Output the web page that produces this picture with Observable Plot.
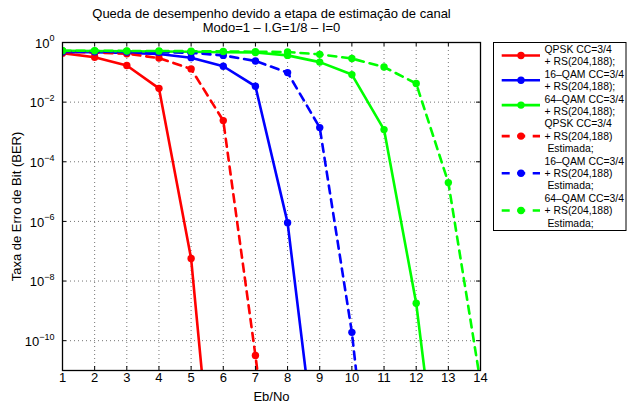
<!DOCTYPE html>
<html>
<head>
<meta charset="utf-8">
<script src="https://cdn.jsdelivr.net/npm/d3@7"></script>
<script src="https://cdn.jsdelivr.net/npm/@observablehq/plot@0.6"></script>
<style>
  body { margin: 0; background: #fff; }
  #chart svg { font-family: "Liberation Sans", Arial, Helvetica, sans-serif; }
</style>
</head>
<body>
<div id="chart"></div>
<script>
// Eb/No axis (dB)
const ebno = [1, 2, 3, 4, 5, 6, 7, 8, 9, 10, 11, 12, 13, 14];

// BER per Eb/No step, perfect channel knowledge
const berQpsk  = [0.44, 0.32, 0.17, 0.029, 5.7e-8, 2.3e-19];
const berQam16 = [0.48, 0.47, 0.45, 0.41, 0.31, 0.16, 0.034, 9.1e-7, 1.3e-15];
const berQam64 = [0.53, 0.52, 0.51, 0.50, 0.49, 0.47, 0.46, 0.37, 0.22, 0.084, 1.2e-3, 1.8e-9, 3.6e-18];

// BER per Eb/No step, estimated channel
const berQpskEst  = [0.50, 0.46, 0.42, 0.30, 0.13, 2.4e-3, 3.2e-11, 1e-19];
const berQam16Est = [0.50, 0.49, 0.48, 0.47, 0.45, 0.37, 0.24, 0.098, 1.4e-3, 1.9e-10, 3e-20];
const berQam64Est = [0.53, 0.53, 0.52, 0.52, 0.51, 0.50, 0.49, 0.48, 0.40, 0.29, 0.15, 0.042, 2e-5, 4e-12];

const seriesValues = [berQpsk, berQam16, berQam64, berQpskEst, berQam16Est, berQam64Est];
const seriesLabels = [
  ["QPSK CC=3/4", "+ RS(204,188);"],
  ["16–QAM CC=3/4", "+ RS(204,188);"],
  ["64–QAM CC=3/4", "+ RS(204,188);"],
  ["QPSK CC=3/4", "+ RS(204,188)", "\u00a0Estimada;"],
  ["16–QAM CC=3/4", "+ RS(204,188)", "\u00a0Estimada;"],
  ["64–QAM CC=3/4", "+ RS(204,188)", "\u00a0Estimada;"]
];
const seriesColors = ["#ff0000", "#0000ff", "#00ff00", "#ff0000", "#0000ff", "#00ff00"];
const seriesDashed = [false, false, false, true, true, true];

const xTicks = ebno;
const yTicks = [1, 1e-2, 1e-4, 1e-6, 1e-8, 1e-10];
const titleLines = ["Queda de desempenho devido a etapa de estimação de canal", "Modo=1 – I.G=1/8 – I=0"];
const xLabel = "Eb/No";
const yLabel = "Taxa de Erro de Bit (BER)";

// figure geometry
const W = 627, H = 403;
const M = {top: 42, right: 147, bottom: 33, left: 62};
const plotW = W - M.left - M.right;
const plotH = H - M.top - M.bottom;
const tickLen = 4;
const dash = "8,6";

const rows = seriesValues.map(vals => vals.map((ber, i) => ({x: ebno[i], ber})));

const seriesMarks = rows.flatMap((data, s) => [
  Plot.line(data, {
    x: "x", y: "ber", stroke: seriesColors[s], strokeWidth: 2.6,
    strokeDasharray: seriesDashed[s] ? dash : null, clip: true
  }),
  Plot.dot(data, {x: "x", y: "ber", r: 3.7, fill: seriesColors[s], stroke: "none", clip: true})
]);

const label = (str, opts) => Plot.text([str], {text: d => d, fontSize: 13, lineAnchor: "middle", textAnchor: "middle", ...opts});

const chart = Plot.plot({
  width: W, height: H,
  marginTop: M.top, marginRight: M.right, marginBottom: M.bottom, marginLeft: M.left,
  style: {background: "#fff", color: "#000", fontFamily: "Liberation Sans, Arial, sans-serif"},
  x: {domain: [1, 14]},
  y: {type: "log", domain: [1e-11, 1]},
  marks: [
    Plot.gridX(xTicks, {stroke: "#000", strokeOpacity: 0.55, strokeDasharray: "1,3"}),
    Plot.gridY(yTicks, {stroke: "#000", strokeOpacity: 0.55, strokeDasharray: "1,3"}),
    ...seriesMarks,
    // inward ticks on all four sides
    Plot.ruleX(xTicks, {insetTop: plotH - tickLen, stroke: "#000"}),
    Plot.ruleX(xTicks, {insetBottom: plotH - tickLen, stroke: "#000"}),
    Plot.ruleY(yTicks, {insetRight: plotW - tickLen, stroke: "#000"}),
    Plot.ruleY(yTicks, {insetLeft: plotW - tickLen, stroke: "#000"}),
    Plot.frame({stroke: "#000", strokeWidth: 1.3}),
    Plot.axisX(xTicks, {tickSize: 0, tickPadding: 2, fontSize: 13, label: null, tickFormat: d => String(d)}),
    Plot.axisY(yTicks, {tickSize: 0, tickPadding: 8, fontSize: 13, dy: 1, label: null,
      tickFormat: d => "10^" + Math.round(Math.log10(d))}),
    label(titleLines[0], {frameAnchor: "top", dy: -28.7}),
    label(titleLines[1], {frameAnchor: "top", dy: -14.3}),
    label(xLabel, {frameAnchor: "bottom", dy: 26.7}),
    label(yLabel, {frameAnchor: "left", dx: -46, rotate: -90})
  ]
});

document.getElementById("chart").appendChild(chart);
const svg = d3.select(chart);

// power-of-ten tick labels: "10" with a raised exponent
svg.selectAll('g[aria-label="y-axis tick label"] text').each(function () {
  const [base, exp] = this.textContent.split("^");
  const t = d3.select(this);
  t.text(base);
  t.append("tspan").attr("dy", -6.3).attr("font-size", 9).text(String(exp).replace("-", "−"));
});

// legend box
const lg = {x: 493.5, y: 42.5, w: 132.5, h: 188, lineX1: 501.7, lineX2: 540, markX: 521, textX: 544.5, firstY: 49.3, step: 12.4};
const legend = svg.append("g").attr("font-size", 10.4).attr("fill", "#000").attr("text-anchor", "start");
legend.append("rect").attr("x", lg.x).attr("y", lg.y).attr("width", lg.w).attr("height", lg.h)
  .attr("fill", "#fff").attr("stroke", "#000").attr("stroke-width", 1);
let k = 0;
seriesLabels.forEach((lines, s) => {
  const yMid = lg.firstY + lg.step * (k + (lines.length - 1) / 2);
  legend.append("line").attr("x1", lg.lineX1).attr("x2", lg.lineX2).attr("y1", yMid).attr("y2", yMid)
    .attr("stroke", seriesColors[s]).attr("stroke-width", 2.6)
    .attr("stroke-dasharray", seriesDashed[s] ? "8,7.5" : null);
  legend.append("circle").attr("cx", lg.markX).attr("cy", yMid).attr("r", 3.7).attr("fill", seriesColors[s]);
  lines.forEach(str => {
    legend.append("text").attr("x", lg.textX).attr("y", lg.firstY + lg.step * k)
      .attr("dy", "0.35em").attr("text-anchor", "start").text(str);
    k++;
  });
});
</script>
</body>
</html>
